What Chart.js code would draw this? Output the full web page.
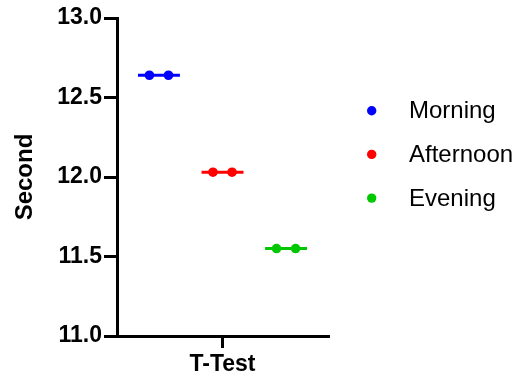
<!DOCTYPE html>
<html><head><meta charset="utf-8">
<script src="https://cdn.jsdelivr.net/npm/chart.js@4"></script>
<style>html,body{margin:0;padding:0;background:#fff}</style>
</head><body>
<canvas id="c" width="525" height="380"></canvas>
<script>
// ---- data ----
const groups = ['Morning', 'Afternoon', 'Evening'];
const morning = [12.64, 12.64];
const afternoon = [12.03, 12.03];
const evening = [11.55, 11.55];
const yTicks = [11.0, 11.5, 12.0, 12.5, 13.0];
const xCategory = 'T-Test';
const yTitle = 'Second';

// ---- styling / layout ----
const series = [morning, afternoon, evening];
const colors = ['#0000ff', '#ff0000', '#00c800'];
const FONT = "'Liberation Sans', Arial, sans-serif";
const jitter = [-0.15, 0.15];
const meanHalf = 0.33;

const datasets = [];
series.forEach((vals, i) => {
  const cx = i - 1;
  const mean = vals.reduce((a, b) => a + b, 0) / vals.length;
  datasets.push({
    label: groups[i] + ' mean',
    data: [{x: cx - meanHalf, y: mean}, {x: cx + meanHalf, y: mean}],
    showLine: true, borderColor: colors[i], borderWidth: 3,
    pointRadius: 0, pointHoverRadius: 0
  });
  datasets.push({
    label: groups[i],
    data: vals.map((v, k) => ({x: cx + jitter[k], y: v})),
    showLine: false, pointRadius: 4.8, pointBorderWidth: 0,
    backgroundColor: colors[i], borderColor: colors[i]
  });
});

const legendPlugin = {
  id: 'sideLegend',
  afterDraw(chart) {
    const ctx = chart.ctx;
    ctx.save();
    groups.forEach((g, i) => {
      const y = 110.7 + i * 43.7;
      ctx.fillStyle = colors[i];
      ctx.beginPath();
      ctx.arc(371.7, y, 4.7, 0, Math.PI * 2);
      ctx.fill();
      ctx.fillStyle = '#000';
      ctx.font = '24px ' + FONT;
      ctx.textBaseline = 'middle';
      ctx.textAlign = 'left';
      ctx.fillText(g, 409, y + 1);
    });
    ctx.restore();
  }
};

new Chart(document.getElementById('c'), {
  type: 'scatter',
  data: {datasets},
  plugins: [legendPlugin],
  options: {
    responsive: false,
    animation: false,
    devicePixelRatio: 1,
    layout: {padding: {top: 18, right: 197, left: 0, bottom: 0}},
    plugins: {legend: {display: false}, tooltip: {enabled: false}},
    scales: {
      x: {
        type: 'linear', min: -1.66, max: 1.66,
        afterBuildTicks: s => { s.ticks = [{value: 0}]; },
        ticks: {callback: () => xCategory, color: '#000', padding: 3, maxRotation: 0, autoSkip: false,
                font: {family: FONT, size: 23, weight: 'bold'}},
        grid: {drawOnChartArea: false, drawTicks: true, tickLength: 12, lineWidth: 3, color: '#000'},
        border: {display: true, color: '#000', width: 3},
        afterFit: s => { s.height = 44; }
      },
      y: {
        type: 'linear', min: 11, max: 13,
        afterBuildTicks: s => { s.ticks = yTicks.map(v => ({value: v})); },
        ticks: {callback: v => Number(v).toFixed(1), color: '#000', padding: 2,
                font: {family: FONT, size: 23, weight: 'bold'}},
        grid: {drawOnChartArea: false, drawTicks: true, tickLength: 13, lineWidth: 3, color: '#000'},
        border: {display: true, color: '#000', width: 3},
        title: {display: true, text: yTitle, color: '#000', padding: {top: 11, bottom: 0},
                font: {family: FONT, size: 24, weight: 'bold'}},
        afterFit: s => { s.width = 117; }
      }
    }
  }
});
</script>
</body></html>
